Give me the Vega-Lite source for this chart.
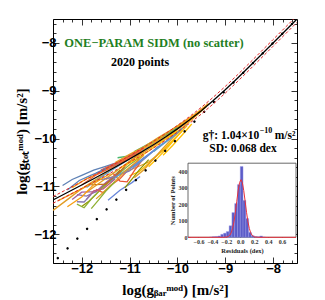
{
  "$schema": "https://vega.github.io/schema/vega-lite/v6.json",
  "width": 244,
  "height": 244,
  "autosize": {"type": "none"},
  "padding": {"left": 53, "top": 19, "right": 28, "bottom": 37},
  "background": "white",
  "config": {"view": {"stroke": "black", "strokeWidth": 1}, "axis": {"grid": false}},
  "datasets": {
    "gal": [
      {"g":"g1","x":-12.4,"y":-10.98},{"g":"g1","x":-12.2,"y":-10.855},{"g":"g1","x":-12.0,"y":-10.77},{"g":"g1","x":-11.75,"y":-10.66},{"g":"g1","x":-11.5,"y":-10.58},{"g":"g1","x":-11.2,"y":-10.48},
      {"g":"g2","x":-12.6,"y":-11.5},{"g":"g2","x":-12.3,"y":-11.275},{"g":"g2","x":-12.0,"y":-11.05},{"g":"g2","x":-11.6,"y":-10.787},{"g":"g2","x":-11.2,"y":-10.54},{"g":"g2","x":-10.8,"y":-10.29},{"g":"g2","x":-10.4,"y":-10.033},{"g":"g2","x":-10.0,"y":-9.776},{"g":"g2","x":-9.6,"y":-9.486},
      {"g":"g3","x":-12.1,"y":-11.17},{"g":"g3","x":-11.9,"y":-11.2},{"g":"g3","x":-11.7,"y":-11.11},{"g":"g3","x":-11.4,"y":-10.85},{"g":"g3","x":-11.1,"y":-10.6},
      {"g":"g4","x":-12.0,"y":-11.42},{"g":"g4","x":-11.85,"y":-11.31},{"g":"g4","x":-11.7,"y":-11.16},{"g":"g4","x":-11.5,"y":-10.95},{"g":"g4","x":-11.2,"y":-10.66},
      {"g":"g5","x":-12.1,"y":-11.37},{"g":"g5","x":-11.95,"y":-11.445},{"g":"g5","x":-11.8,"y":-11.265},{"g":"g5","x":-11.6,"y":-11.057},{"g":"g5","x":-11.3,"y":-10.795},{"g":"g5","x":-11.0,"y":-10.546},{"g":"g5","x":-10.7,"y":-10.33},
      {"g":"g6","x":-12.2,"y":-11.275},{"g":"g6","x":-12.0,"y":-11.12},{"g":"g6","x":-11.7,"y":-11.11},{"g":"g6","x":-11.5,"y":-10.92},{"g":"g6","x":-11.2,"y":-10.69},
      {"g":"g7","x":-11.9,"y":-11.02},{"g":"g7","x":-11.6,"y":-10.807},{"g":"g7","x":-11.3,"y":-10.615},{"g":"g7","x":-11.0,"y":-10.426},{"g":"g7","x":-10.6,"y":-10.18},
      {"g":"g8","x":-11.7,"y":-11.06},{"g":"g8","x":-11.55,"y":-11.13},{"g":"g8","x":-11.4,"y":-10.98},{"g":"g8","x":-11.2,"y":-10.84},{"g":"g8","x":-11.0,"y":-10.626},{"g":"g8","x":-10.8,"y":-10.43},
      {"g":"g9","x":-11.45,"y":-11.29},{"g":"g9","x":-11.2,"y":-11.08},{"g":"g9","x":-10.95,"y":-10.92},{"g":"g9","x":-10.78,"y":-10.79},
      {"g":"g10","x":-11.5,"y":-10.85},{"g":"g10","x":-11.2,"y":-10.74},{"g":"g10","x":-10.9,"y":-10.62},{"g":"g10","x":-10.6,"y":-10.49},{"g":"g10","x":-10.3,"y":-10.249},{"g":"g10","x":-10.0,"y":-9.946},
      {"g":"g11","x":-11.0,"y":-10.776},{"g":"g11","x":-10.8,"y":-10.69},{"g":"g11","x":-10.5,"y":-10.427},{"g":"g11","x":-10.2,"y":-10.134},{"g":"g11","x":-9.9,"y":-9.844},
      {"g":"g12","x":-12.2,"y":-11.025},{"g":"g12","x":-11.9,"y":-10.84},{"g":"g12","x":-11.6,"y":-10.707},{"g":"g12","x":-11.3,"y":-10.545},{"g":"g12","x":-11.0,"y":-10.366},{"g":"g12","x":-10.7,"y":-10.2},{"g":"g12","x":-10.4,"y":-10.013},{"g":"g12","x":-10.1,"y":-9.824},{"g":"g12","x":-9.8,"y":-9.62},{"g":"g12","x":-9.5,"y":-9.397},
      {"g":"g13","x":-11.8,"y":-10.965},{"g":"g13","x":-11.5,"y":-10.95},{"g":"g13","x":-11.3,"y":-10.795},{"g":"g13","x":-11.0,"y":-10.476},{"g":"g13","x":-10.7,"y":-10.25},
      {"g":"g14","x":-11.35,"y":-10.72},{"g":"g14","x":-11.2,"y":-10.89},{"g":"g14","x":-11.05,"y":-10.905},{"g":"g14","x":-10.9,"y":-10.67},{"g":"g14","x":-10.7,"y":-10.4},
      {"g":"g15","x":-10.9,"y":-10.27},{"g":"g15","x":-10.6,"y":-10.11},{"g":"g15","x":-10.3,"y":-9.949},{"g":"g15","x":-10.0,"y":-9.766},
      {"g":"g16","x":-12.3,"y":-11.075},{"g":"g16","x":-12.05,"y":-10.875},{"g":"g16","x":-11.8,"y":-10.765},{"g":"g16","x":-11.5,"y":-10.64},
      {"g":"g17","x":-11.9,"y":-11.12},{"g":"g17","x":-11.6,"y":-10.907},{"g":"g17","x":-11.3,"y":-10.695},{"g":"g17","x":-11.0,"y":-10.476},{"g":"g17","x":-10.6,"y":-10.22},{"g":"g17","x":-10.2,"y":-9.954},{"g":"g17","x":-9.8,"y":-9.66},{"g":"g17","x":-9.4,"y":-9.335},
      {"g":"g18","x":-11.6,"y":-10.857},{"g":"g18","x":-11.3,"y":-10.795},{"g":"g18","x":-11.0,"y":-10.676},{"g":"g18","x":-10.7,"y":-10.43},{"g":"g18","x":-10.4,"y":-10.163},
      {"g":"g19","x":-11.1,"y":-11.03},{"g":"g19","x":-10.95,"y":-10.848},{"g":"g19","x":-10.8,"y":-10.66},{"g":"g19","x":-10.6,"y":-10.44},
      {"g":"g20","x":-10.9,"y":-10.82},{"g":"g20","x":-10.7,"y":-10.65},{"g":"g20","x":-10.5,"y":-10.427},{"g":"g20","x":-10.3,"y":-10.199},{"g":"g20","x":-10.1,"y":-9.984},{"g":"g20","x":-9.9,"y":-9.804},
      {"g":"g21","x":-10.6,"y":-10.59},{"g":"g21","x":-10.4,"y":-10.393},{"g":"g21","x":-10.2,"y":-10.184},{"g":"g21","x":-10.0,"y":-9.946},{"g":"g21","x":-9.8,"y":-9.73},
      {"g":"g22","x":-12.0,"y":-10.97},{"g":"g22","x":-11.7,"y":-10.76},{"g":"g22","x":-11.4,"y":-10.62},{"g":"g22","x":-11.1,"y":-10.46},{"g":"g22","x":-10.8,"y":-10.29},
      {"g":"g23","x":-11.4,"y":-10.9},{"g":"g23","x":-11.2,"y":-10.74},{"g":"g23","x":-10.9,"y":-10.57},{"g":"g23","x":-10.6,"y":-10.34},{"g":"g23","x":-10.3,"y":-10.099},
      {"g":"g24","x":-10.5,"y":-10.077},{"g":"g24","x":-10.2,"y":-9.874},{"g":"g24","x":-9.9,"y":-9.674},{"g":"g24","x":-9.6,"y":-9.466},{"g":"g24","x":-9.35,"y":-9.267},
      {"g":"g25","x":-11.9,"y":-11.27},{"g":"g25","x":-11.75,"y":-11.09},{"g":"g25","x":-11.55,"y":-11.05},{"g":"g25","x":-11.3,"y":-10.845},
      {"g":"g26","x":-11.25,"y":-10.4},{"g":"g26","x":-11.0,"y":-10.36},{"g":"g26","x":-10.78,"y":-10.3},
      {"g":"g27","x":-12.3,"y":-11.425},{"g":"g27","x":-12.0,"y":-11.22},{"g":"g27","x":-11.7,"y":-10.91},{"g":"g27","x":-11.4,"y":-10.73},
      {"g":"g28","x":-11.0,"y":-10.626},{"g":"g28","x":-10.7,"y":-10.4},{"g":"g28","x":-10.4,"y":-10.183},{"g":"g28","x":-10.1,"y":-9.944},{"g":"g28","x":-9.8,"y":-9.7},
      {"g":"g29","x":-10.3,"y":-10.349},{"g":"g29","x":-10.1,"y":-10.144},{"g":"g29","x":-9.9,"y":-9.924},{"g":"g29","x":-9.7,"y":-9.695},
      {"g":"g30","x":-11.6,"y":-10.657},{"g":"g30","x":-11.3,"y":-10.515},{"g":"g30","x":-11.0,"y":-10.366},{"g":"g30","x":-10.7,"y":-10.2},
      {"g":"g31","x":-12.1,"y":-11.32},{"g":"g31","x":-11.95,"y":-11.325},{"g":"g31","x":-11.8,"y":-11.165},
      {"g":"g32","x":-11.7,"y":-11.26},{"g":"g32","x":-11.5,"y":-11.08},{"g":"g32","x":-11.3,"y":-10.895},{"g":"g32","x":-11.1,"y":-10.68},{"g":"g32","x":-10.9,"y":-10.52},{"g":"g32","x":-10.7,"y":-10.35},
      {"g":"g33","x":-10.2,"y":-9.984},{"g":"g33","x":-10.0,"y":-9.856},{"g":"g33","x":-9.8,"y":-9.69},{"g":"g33","x":-9.6,"y":-9.516},{"g":"g33","x":-9.4,"y":-9.335},
      {"g":"g34","x":-11.8,"y":-11.465},{"g":"g34","x":-11.65,"y":-11.285},{"g":"g34","x":-11.5,"y":-11.1},{"g":"g34","x":-11.3,"y":-10.895},
      {"g":"g35","x":-10.5,"y":-10.277},{"g":"g35","x":-10.3,"y":-10.119},{"g":"g35","x":-10.1,"y":-9.964},{"g":"g35","x":-9.9,"y":-9.784},
      {"g":"g36","x":-11.3,"y":-10.5},{"g":"g36","x":-11.0,"y":-10.33},{"g":"g36","x":-10.7,"y":-10.17},{"g":"g36","x":-10.4,"y":-9.98},{"g":"g36","x":-10.1,"y":-9.8},{"g":"g36","x":-9.8,"y":-9.6},
      {"g":"g37","x":-11.2,"y":-10.62},{"g":"g37","x":-10.9,"y":-10.45},{"g":"g37","x":-10.6,"y":-10.26},{"g":"g37","x":-10.3,"y":-10.05},{"g":"g37","x":-10.0,"y":-9.83},
      {"g":"g38","x":-12.5,"y":-11.3},{"g":"g38","x":-12.2,"y":-11.15},{"g":"g38","x":-11.9,"y":-11.0},{"g":"g38","x":-11.6,"y":-10.83},
      {"g":"g39","x":-11.7,"y":-10.72},{"g":"g39","x":-11.45,"y":-10.6},{"g":"g39","x":-11.2,"y":-10.5},
      {"g":"g40","x":-11.5,"y":-10.62},{"g":"g40","x":-11.25,"y":-10.52},{"g":"g40","x":-11.0,"y":-10.4},{"g":"g40","x":-10.75,"y":-10.26}
    ],
    "fit": [
      {"x":-12.6,"fit":-11.281,"lo":-11.351,"hi":-11.211},
      {"x":-12.5,"fit":-11.23,"lo":-11.3,"hi":-11.16},
      {"x":-12.25,"fit":-11.1,"lo":-11.17,"hi":-11.03},
      {"x":-12.0,"fit":-10.97,"lo":-11.04,"hi":-10.9},
      {"x":-11.75,"fit":-10.839,"lo":-10.909,"hi":-10.769},
      {"x":-11.5,"fit":-10.704,"lo":-10.774,"hi":-10.634},
      {"x":-11.25,"fit":-10.567,"lo":-10.637,"hi":-10.497},
      {"x":-11.0,"fit":-10.426,"lo":-10.496,"hi":-10.356},
      {"x":-10.75,"fit":-10.28,"lo":-10.35,"hi":-10.21},
      {"x":-10.5,"fit":-10.127,"lo":-10.197,"hi":-10.057},
      {"x":-10.25,"fit":-9.967,"lo":-10.037,"hi":-9.897},
      {"x":-10.0,"fit":-9.796,"lo":-9.866,"hi":-9.726},
      {"x":-9.75,"fit":-9.613,"lo":-9.683,"hi":-9.543},
      {"x":-9.5,"fit":-9.417,"lo":-9.487,"hi":-9.347},
      {"x":-9.25,"fit":-9.205,"lo":-9.275,"hi":-9.135},
      {"x":-9.0,"fit":-8.98,"lo":-9.05,"hi":-8.91},
      {"x":-8.75,"fit":-8.743,"lo":-8.813,"hi":-8.673},
      {"x":-8.5,"fit":-8.498,"lo":-8.568,"hi":-8.428},
      {"x":-8.0,"fit":-8.0,"lo":-8.07,"hi":-7.93},
      {"x":-7.5,"fit":-7.5,"lo":-7.57,"hi":-7.43}
    ],
    "diag": [{"x":-12.5,"y":-12.5},{"x":-7.5,"y":-7.5}],
    "hist": [
      {"b0":-0.44,"b1":-0.4,"n":2},{"b0":-0.4,"b1":-0.36,"n":4},{"b0":-0.36,"b1":-0.32,"n":5},
      {"b0":-0.32,"b1":-0.28,"n":8},{"b0":-0.28,"b1":-0.24,"n":18},{"b0":-0.24,"b1":-0.2,"n":25},
      {"b0":-0.2,"b1":-0.16,"n":35},{"b0":-0.16,"b1":-0.12,"n":70},{"b0":-0.12,"b1":-0.08,"n":150},
      {"b0":-0.08,"b1":-0.04,"n":205},{"b0":-0.04,"b1":0.0,"n":320},{"b0":0.0,"b1":0.04,"n":430},
      {"b0":0.04,"b1":0.08,"n":224},{"b0":0.08,"b1":0.12,"n":114},{"b0":0.12,"b1":0.16,"n":30},
      {"b0":0.16,"b1":0.2,"n":10},{"b0":0.2,"b1":0.24,"n":4},{"b0":0.24,"b1":0.28,"n":3},
      {"b0":0.28,"b1":0.32,"n":8},{"b0":0.32,"b1":0.36,"n":2}
    ],
    "gauss": [
      {"r":-0.75,"n":0},{"r":-0.25,"n":0},{"r":-0.19,"n":1.9},{"r":-0.17,"n":5.2},{"r":-0.15,"n":12.5},
      {"r":-0.13,"n":27},{"r":-0.11,"n":54},{"r":-0.09,"n":95},{"r":-0.07,"n":152},{"r":-0.05,"n":219},
      {"r":-0.03,"n":284},{"r":-0.01,"n":332},{"r":0.01,"n":350},{"r":0.03,"n":332},{"r":0.05,"n":284},
      {"r":0.07,"n":219},{"r":0.09,"n":152},{"r":0.11,"n":95},{"r":0.13,"n":54},{"r":0.15,"n":27},
      {"r":0.17,"n":12.5},{"r":0.19,"n":5.2},{"r":0.21,"n":1.9},{"r":0.27,"n":0},{"r":0.8,"n":0}
    ],
    "one": [{}]
  },
  "layer": [
    {
      "layer": [
        {
          "data": {"name": "gal"},
          "mark": {"type": "line", "strokeWidth": 1.3, "clip": true},
          "encoding": {
            "x": {"field": "x", "type": "quantitative",
              "scale": {"domain": [-12.6, -7.5], "nice": false, "zero": false},
              "axis": {"orient": "bottom", "domain": false,
                "values": [-12.6,-12.4,-12.2,-12,-11.8,-11.6,-11.4,-11.2,-11,-10.8,-10.6,-10.4,-10.2,-10,-9.8,-9.6,-9.4,-9.2,-9,-8.8,-8.6,-8.4,-8.2,-8,-7.8,-7.6],
                "format": ".0f", "labelExpr": "datum.value % 1 === 0 ? datum.label : ''",
                "labelOverlap": false, "labelFlush": false,
                "tickSize": {"condition": {"test": "datum.value % 1 === 0", "value": -6}, "value": -3},
                "tickColor": "black", "tickWidth": 0.8,
                "labelFont": "Liberation Sans", "labelFontWeight": "bold", "labelFontSize": 13, "labelColor": "black",
                "labelPadding": 5,
                "title": "log(gᵦₐᵣᵐᵒᵈ) [m/s²]", "titleFont": "Liberation Serif", "titleFontSize": 15, "titleFontWeight": "bold", "titleColor": "black", "titlePadding": 4}},
            "y": {"field": "y", "type": "quantitative",
              "scale": {"domain": [-12.6, -7.5], "nice": false, "zero": false},
              "axis": {"orient": "left", "domain": false,
                "values": [-12.6,-12.4,-12.2,-12,-11.8,-11.6,-11.4,-11.2,-11,-10.8,-10.6,-10.4,-10.2,-10,-9.8,-9.6,-9.4,-9.2,-9,-8.8,-8.6,-8.4,-8.2,-8,-7.8,-7.6],
                "format": ".0f", "labelExpr": "datum.value % 1 === 0 ? datum.label : ''",
                "labelOverlap": false, "labelFlush": false,
                "tickSize": {"condition": {"test": "datum.value % 1 === 0", "value": -6}, "value": -3},
                "tickColor": "black", "tickWidth": 0.8,
                "labelFont": "Liberation Sans", "labelFontWeight": "bold", "labelFontSize": 13, "labelColor": "black",
                "labelPadding": 3,
                "title": "log(gₜₒₜᵐᵒᵈ) [m/s²]", "titleFont": "Liberation Serif", "titleFontSize": 15, "titleFontWeight": "bold", "titleColor": "black", "titlePadding": 4}},
            "color": {"field": "g", "type": "nominal", "legend": null,
              "scale": {
                "domain": ["g1","g2","g3","g4","g5","g6","g7","g8","g9","g10","g11","g12","g13","g14","g15","g16","g17","g18","g19","g20","g21","g22","g23","g24","g25","g26","g27","g28","g29","g30","g31","g32","g33","g34","g35","g36","g37","g38","g39","g40"],
                "range": ["#5E81B5","#E19C24","#8778B3","#929600","#8FB032","#A5609D","#5D9EC7","#EB6235","#6685D9","#E19C24","#FFBF00","#F89F13","#C56E1A","#E95536","#47B66D","#5E81B5","#E19C24","#8778B3","#929600","#E19C24","#FFBF00","#EB6235","#5D9EC7","#F89F13","#BC5B80","#47B66D","#F89F13","#6685D9","#FFBF00","#E95536","#8778B3","#E19C24","#F89F13","#8FB032","#5D9EC7","#E19C24","#FFBF00","#F89F13","#5E81B5","#EB6235"]}}
          }
        },
        {
          "data": {"name": "diag"},
          "mark": {"type": "line", "color": "black", "strokeWidth": 2.4, "strokeCap": "round", "strokeDash": [0.1, 13.7], "clip": true},
          "encoding": {
            "x": {"field": "x", "type": "quantitative", "axis": null},
            "y": {"field": "y", "type": "quantitative", "axis": null}
          }
        },
        {
          "data": {"name": "fit"},
          "mark": {"type": "line", "color": "#E02828", "strokeWidth": 1, "strokeDash": [3, 2], "clip": true},
          "encoding": {
            "x": {"field": "x", "type": "quantitative", "axis": null},
            "y": {"field": "lo", "type": "quantitative", "axis": null}
          }
        },
        {
          "data": {"name": "fit"},
          "mark": {"type": "line", "color": "#E02828", "strokeWidth": 1, "strokeDash": [3, 2], "clip": true},
          "encoding": {
            "x": {"field": "x", "type": "quantitative", "axis": null},
            "y": {"field": "hi", "type": "quantitative", "axis": null}
          }
        },
        {
          "data": {"name": "fit"},
          "mark": {"type": "line", "color": "black", "strokeWidth": 1.3, "clip": true},
          "encoding": {
            "x": {"field": "x", "type": "quantitative", "axis": null},
            "y": {"field": "fit", "type": "quantitative", "axis": null}
          }
        },
        {
          "data": {"name": "diag"},
          "mark": {"type": "point", "opacity": 0},
          "encoding": {
            "x": {"field": "x", "type": "quantitative",
              "axis": {"orient": "top", "domain": false, "labels": false, "title": null,
                "values": [-12.6,-12.4,-12.2,-12,-11.8,-11.6,-11.4,-11.2,-11,-10.8,-10.6,-10.4,-10.2,-10,-9.8,-9.6,-9.4,-9.2,-9,-8.8,-8.6,-8.4,-8.2,-8,-7.8,-7.6],
                "tickSize": {"condition": {"test": "datum.value % 1 === 0", "value": -6}, "value": -3},
                "tickColor": "black", "tickWidth": 0.8}},
            "y": {"field": "y", "type": "quantitative",
              "axis": {"orient": "right", "domain": false, "labels": false, "title": null,
                "values": [-12.6,-12.4,-12.2,-12,-11.8,-11.6,-11.4,-11.2,-11,-10.8,-10.6,-10.4,-10.2,-10,-9.8,-9.6,-9.4,-9.2,-9,-8.8,-8.6,-8.4,-8.2,-8,-7.8,-7.6],
                "tickSize": {"condition": {"test": "datum.value % 1 === 0", "value": -6}, "value": -3},
                "tickColor": "black", "tickWidth": 0.8}}
          }
        },
        {
          "data": {"name": "one"},
          "mark": {"type": "text", "text": "ONE−PARAM SIDM (no scatter)", "font": "Liberation Serif", "fontWeight": "bold", "fontSize": 12.5, "color": "#1F801F", "align": "center", "baseline": "middle"},
          "encoding": {"x": {"datum": -10.49, "type": "quantitative", "axis": null}, "y": {"datum": -8.0, "type": "quantitative", "axis": null}}
        },
        {
          "data": {"name": "one"},
          "mark": {"type": "text", "text": "2020 points", "font": "Liberation Serif", "fontWeight": "bold", "fontSize": 12, "color": "black", "align": "center", "baseline": "middle"},
          "encoding": {"x": {"datum": -10.78, "type": "quantitative", "axis": null}, "y": {"datum": -8.4, "type": "quantitative", "axis": null}}
        },
        {
          "data": {"name": "one"},
          "mark": {"type": "text", "text": "g†: 1.04×10", "font": "Liberation Serif", "fontWeight": "bold", "fontSize": 11.5, "color": "black", "align": "right", "baseline": "middle"},
          "encoding": {"x": {"datum": -8.29, "type": "quantitative", "axis": null}, "y": {"datum": -9.94, "type": "quantitative", "axis": null}}
        },
        {
          "data": {"name": "one"},
          "mark": {"type": "text", "text": "−10", "font": "Liberation Serif", "fontWeight": "bold", "fontSize": 8, "color": "black", "align": "left", "baseline": "middle", "dx": 0.5, "dy": -4.5},
          "encoding": {"x": {"datum": -8.29, "type": "quantitative", "axis": null}, "y": {"datum": -9.94, "type": "quantitative", "axis": null}}
        },
        {
          "data": {"name": "one"},
          "mark": {"type": "text", "text": "m/s²", "font": "Liberation Serif", "fontWeight": "bold", "fontSize": 11.5, "color": "black", "align": "left", "baseline": "middle", "dx": 15.5},
          "encoding": {"x": {"datum": -8.29, "type": "quantitative", "axis": null}, "y": {"datum": -9.94, "type": "quantitative", "axis": null}}
        },
        {
          "data": {"name": "one"},
          "mark": {"type": "text", "text": "SD: 0.068 dex", "font": "Liberation Serif", "fontWeight": "bold", "fontSize": 11.5, "color": "black", "align": "center", "baseline": "middle"},
          "encoding": {"x": {"datum": -8.63, "type": "quantitative", "axis": null}, "y": {"datum": -10.22, "type": "quantitative", "axis": null}}
        }
      ],
      "resolve": {"axis": {"x": "independent", "y": "independent"}}
    },
    {
      "layer": [
        {
          "data": {"name": "one"},
          "mark": {"type": "rect", "fill": "white", "stroke": "#444444", "strokeWidth": 0.8},
          "encoding": {
            "x": {"datum": -0.75, "type": "quantitative", "axis": null,
              "scale": {"domain": [-0.75, 0.8], "range": [135, 243], "nice": false, "zero": false}},
            "x2": {"datum": 0.8},
            "y": {"datum": 0, "type": "quantitative", "axis": null,
              "scale": {"domain": [0, 450], "range": [218.3, 144.2], "nice": false, "zero": false}},
            "y2": {"datum": 450}
          }
        },
        {
          "data": {"name": "hist"},
          "mark": {"type": "rect", "fill": "#5C5CC8", "stroke": "#9A9AE6", "strokeWidth": 0.4},
          "encoding": {
            "x": {"field": "b0", "type": "quantitative",
              "axis": {"orient": "bottom", "offset": -25.7, "domain": false,
                "values": [-0.6, -0.4, -0.2, 0, 0.2, 0.4, 0.6], "format": ".1f",
                "labelOverlap": false, "labelFlush": false,
                "tickSize": -2, "tickColor": "#444", "labelPadding": 3,
                "labelFont": "Liberation Serif", "labelFontSize": 6, "labelFontWeight": "bold", "labelColor": "#333",
                "title": "Residuals (dex)", "titleFont": "Liberation Serif", "titleFontSize": 6.5, "titleFontWeight": "bold", "titleColor": "#222", "titlePadding": 3}},
            "x2": {"field": "b1"},
            "y": {"field": "n", "type": "quantitative",
              "axis": {"orient": "left", "offset": -135, "domain": false,
                "values": [0, 100, 200, 300, 400],
                "labelOverlap": false, "labelFlush": false,
                "tickSize": -2, "tickColor": "#444", "labelPadding": 3,
                "labelFont": "Liberation Serif", "labelFontSize": 6, "labelFontWeight": "bold", "labelColor": "#333",
                "title": "Number of Points", "titleFont": "Liberation Serif", "titleFontSize": 6.5, "titleFontWeight": "bold", "titleColor": "#222", "titlePadding": 3}},
            "y2": {"datum": 0}
          }
        },
        {
          "data": {"name": "gauss"},
          "mark": {"type": "line", "color": "#E8323C", "strokeWidth": 1},
          "encoding": {
            "x": {"field": "r", "type": "quantitative", "axis": null},
            "y": {"field": "n", "type": "quantitative", "axis": null}
          }
        }
      ],
      "resolve": {"axis": {"x": "independent", "y": "independent"}}
    }
  ],
  "resolve": {"scale": {"x": "independent", "y": "independent"}}
}
